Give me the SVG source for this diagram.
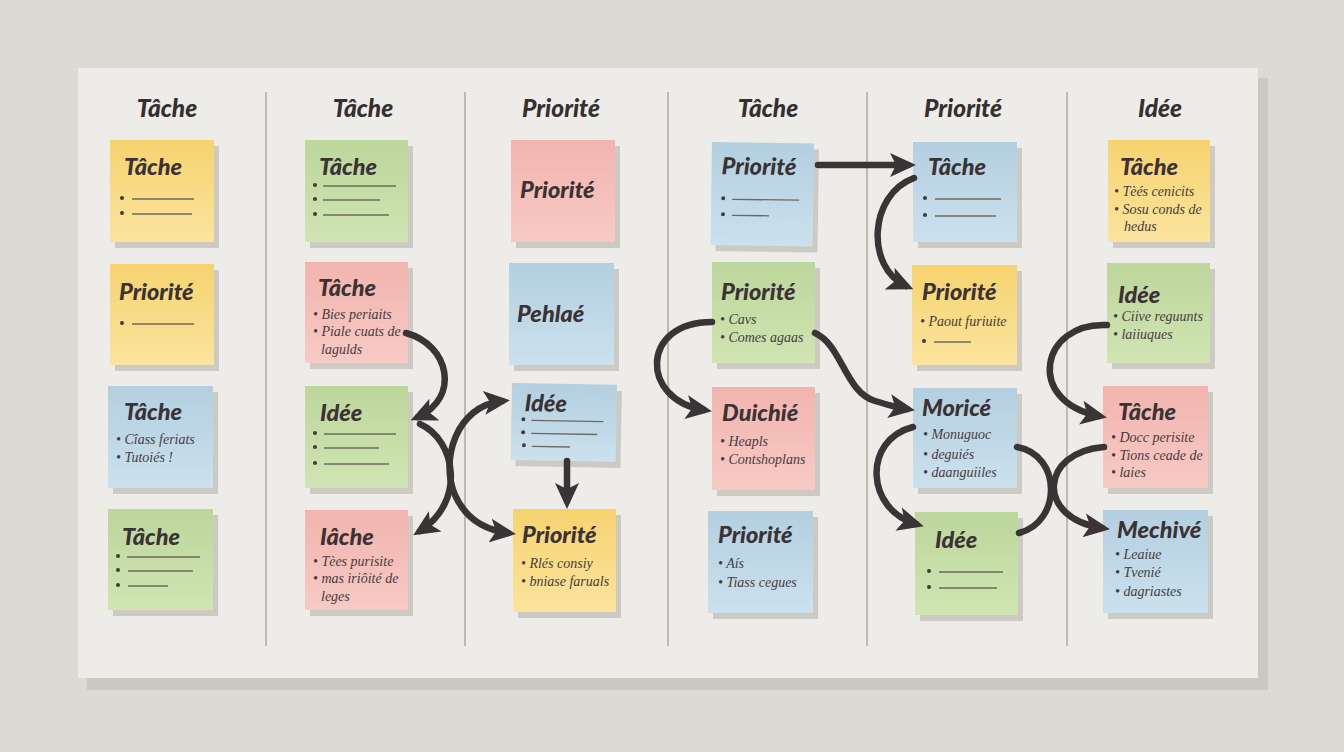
<svg xmlns="http://www.w3.org/2000/svg" width="1344" height="752" viewBox="0 0 1344 752">
<defs>
<linearGradient id="gy" x1="0" y1="0" x2="0" y2="1"><stop offset="0" stop-color="#f6d36f"/><stop offset="1" stop-color="#fbe49f"/></linearGradient>
<linearGradient id="gp" x1="0" y1="0" x2="0" y2="1"><stop offset="0" stop-color="#f2b4ae"/><stop offset="1" stop-color="#f7cac5"/></linearGradient>
<linearGradient id="gb" x1="0" y1="0" x2="0" y2="1"><stop offset="0" stop-color="#b3cfe0"/><stop offset="1" stop-color="#cbe1ed"/></linearGradient>
<linearGradient id="gg" x1="0" y1="0" x2="0" y2="1"><stop offset="0" stop-color="#bdd69b"/><stop offset="1" stop-color="#d0e5b3"/></linearGradient>
<marker id="ah" markerUnits="userSpaceOnUse" markerWidth="26" markerHeight="26" viewBox="0 0 26 26" refX="18" refY="13" orient="auto-start-reverse"><path d="M0 1 L26 13 L0 25 L6 13 Z" fill="#3a3436"/></marker>
</defs>
<style>
.h{font-family:Lato,"DejaVu Sans",sans-serif;font-weight:900;font-style:italic;font-size:24.5px;fill:#35302f;text-anchor:middle}
.t{font-family:Lato,"DejaVu Sans",sans-serif;font-weight:900;font-style:italic;font-size:23.5px;fill:#3a3234}
.b{font-family:"Liberation Serif","DejaVu Serif",serif;font-style:italic;font-size:14px;fill:#463c3e}
.sh{fill:#cdcac4}
.y{fill:url(#gy)}.p{fill:url(#gp)}.bl{fill:url(#gb)}.g{fill:url(#gg)}
.ln{stroke:#6c695f;stroke-width:1.3}
.dot{fill:#3f3a3a}
.dv{stroke:#bdbab4;stroke-width:2}
.c{fill:none;stroke:#3a3436;stroke-width:6.5;stroke-linecap:round}
</style>
<rect width="1344" height="752" fill="#dcdad5"/>
<rect x="87" y="78" width="1181" height="612" fill="#cbc8c2"/>
<rect x="78" y="68" width="1180" height="610" fill="#edece9"/>
<g id="dividers">
<line class="dv" x1="266" y1="92" x2="266" y2="646"/>
<line class="dv" x1="465" y1="92" x2="465" y2="646"/>
<line class="dv" x1="668" y1="92" x2="668" y2="646"/>
<line class="dv" x1="867" y1="92" x2="867" y2="646"/>
<line class="dv" x1="1067" y1="92" x2="1067" y2="646"/>
</g>
<g id="headers">
<text class="h" x="167" y="117">Tâche</text>
<text class="h" x="363" y="117">Tâche</text>
<text class="h" x="561" y="117">Priorité</text>
<text class="h" x="768" y="117">Tâche</text>
<text class="h" x="963" y="117">Priorité</text>
<text class="h" x="1160" y="117">Idée</text>
</g>

<g id="n1" transform="translate(110,140)">
<rect class="sh" x="5" y="6" width="104" height="102"/><rect class="y" width="104" height="102"/>
<text class="t" x="14" y="35">Tâche</text>
<circle class="dot" cx="12" cy="58" r="2"/><line class="ln" x1="22" y1="59" x2="84" y2="59"/>
<circle class="dot" cx="12" cy="73" r="2"/><line class="ln" x1="22" y1="74" x2="82" y2="74"/>
</g>
<g id="n2" transform="translate(110,264)">
<rect class="sh" x="5" y="6" width="104" height="101"/><rect class="y" width="104" height="101"/>
<text class="t" x="9" y="36">Priorité</text>
<circle class="dot" cx="12" cy="59" r="2"/><line class="ln" x1="22" y1="60" x2="84" y2="60"/>
</g>
<g id="n3" transform="translate(108,386)">
<rect class="sh" x="5" y="6" width="105" height="102"/><rect class="bl" width="105" height="102"/>
<text class="t" x="16" y="34">Tâche</text>
<text class="b" x="8" y="58">• Cîass feriats</text>
<text class="b" x="8" y="76">• Tutoiés !</text>
</g>
<g id="n4" transform="translate(108,509)">
<rect class="sh" x="5" y="6" width="105" height="101"/><rect class="g" width="105" height="101"/>
<text class="t" x="14" y="36">Tâche</text>
<circle class="dot" cx="10" cy="47" r="2"/><line class="ln" x1="19" y1="48" x2="92" y2="48"/>
<circle class="dot" cx="10" cy="61" r="2"/><line class="ln" x1="20" y1="62" x2="85" y2="62"/>
<circle class="dot" cx="10" cy="76" r="2"/><line class="ln" x1="20" y1="77" x2="60" y2="77"/>
</g>

<g id="n5" transform="translate(305,140)">
<rect class="sh" x="5" y="6" width="103" height="102"/><rect class="g" width="103" height="102"/>
<text class="t" x="14" y="35">Tâche</text>
<circle class="dot" cx="10" cy="45" r="2"/><line class="ln" x1="18" y1="46" x2="91" y2="46"/>
<circle class="dot" cx="10" cy="59" r="2"/><line class="ln" x1="18" y1="60" x2="75" y2="60"/>
<circle class="dot" cx="10" cy="74" r="2"/><line class="ln" x1="18" y1="75" x2="84" y2="75"/>
</g>
<g id="n6" transform="translate(305,262)">
<rect class="sh" x="5" y="6" width="103" height="101"/><rect class="p" width="103" height="101"/>
<text class="t" x="13" y="34">Tâche</text>
<text class="b" x="8" y="57">• Bies periaits</text>
<text class="b" x="8" y="74">• Piale cuats de</text>
<text class="b" x="16" y="92">lagulds</text>
</g>
<g id="n7" transform="translate(305,386)">
<rect class="sh" x="5" y="6" width="103" height="102"/><rect class="g" width="103" height="102"/>
<text class="t" x="15" y="35">Idée</text>
<circle class="dot" cx="10" cy="47" r="2"/><line class="ln" x1="19" y1="48" x2="91" y2="48"/>
<circle class="dot" cx="10" cy="61" r="2"/><line class="ln" x1="19" y1="62" x2="74" y2="62"/>
<circle class="dot" cx="10" cy="77" r="2"/><line class="ln" x1="19" y1="78" x2="84" y2="78"/>
</g>
<g id="n8" transform="translate(305,510)">
<rect class="sh" x="5" y="6" width="103" height="100"/><rect class="p" width="103" height="100"/>
<text class="t" x="15" y="35">Iâche</text>
<text class="b" x="8" y="56">• Tèes purisite</text>
<text class="b" x="8" y="73">• mas iriôité de</text>
<text class="b" x="16" y="91">leges</text>
</g>

<g id="n9" transform="translate(511,140)">
<rect class="sh" x="5" y="6" width="104" height="102"/><rect class="p" width="104" height="102"/>
<text class="t" x="9" y="58">Priorité</text>
</g>
<g id="n10" transform="translate(509,263)">
<rect class="sh" x="5" y="6" width="105" height="102"/><rect class="bl" width="105" height="102"/>
<text class="t" x="8" y="59">Pehlaé</text>
</g>
<g id="n11" transform="translate(512,383) rotate(1)">
<rect class="sh" x="5" y="6" width="105" height="77"/><rect class="bl" width="105" height="77"/>
<text class="t" x="13" y="28">Idée</text>
<circle class="dot" cx="12" cy="36" r="2"/><line class="ln" x1="20" y1="37" x2="92" y2="37"/>
<circle class="dot" cx="12" cy="49" r="2"/><line class="ln" x1="20" y1="50" x2="86" y2="50"/>
<circle class="dot" cx="13" cy="62" r="2"/><line class="ln" x1="21" y1="63" x2="59" y2="63"/>
</g>
<g id="n12" transform="translate(513,509)">
<rect class="sh" x="5" y="6" width="103" height="103"/><rect class="y" width="103" height="103"/>
<text class="t" x="9" y="34">Priorité</text>
<text class="b" x="8" y="59">• Rlés consiy</text>
<text class="b" x="8" y="77">• bniase faruals</text>
</g>

<g id="n13" transform="translate(712,142) rotate(0.8)">
<rect class="sh" x="5" y="6" width="102" height="103"/><rect class="bl" width="102" height="103"/>
<text class="t" x="10" y="32">Priorité</text>
<circle class="dot" cx="12" cy="56" r="2"/><line class="ln" x1="21" y1="57" x2="88" y2="57"/>
<circle class="dot" cx="12" cy="72" r="2"/><line class="ln" x1="21" y1="73" x2="58" y2="73"/>
</g>
<g id="n15" transform="translate(712,262)">
<rect class="sh" x="5" y="6" width="103" height="101"/><rect class="g" width="103" height="101"/>
<text class="t" x="9" y="38">Priorité</text>
<text class="b" x="8" y="62">• Cavs</text>
<text class="b" x="8" y="80">• Comes agaas</text>
</g>
<g id="n16" transform="translate(712,387)">
<rect class="sh" x="5" y="6" width="103" height="103"/><rect class="p" width="103" height="103"/>
<text class="t" x="10" y="34">Duichié</text>
<text class="b" x="8" y="59">• Heapls</text>
<text class="b" x="8" y="77">• Contshoplans</text>
</g>
<g id="n17" transform="translate(708,511)">
<rect class="sh" x="5" y="6" width="105" height="102"/><rect class="bl" width="105" height="102"/>
<text class="t" x="10" y="32">Priorité</text>
<text class="b" x="10" y="57">• Aís</text>
<text class="b" x="10" y="76">• Tiass cegues</text>
</g>

<g id="n14" transform="translate(913,142)">
<rect class="sh" x="5" y="6" width="104" height="100"/><rect class="bl" width="104" height="100"/>
<text class="t" x="15" y="33">Tâche</text>
<circle class="dot" cx="12" cy="56" r="2"/><line class="ln" x1="22" y1="57" x2="88" y2="57"/>
<circle class="dot" cx="12" cy="73" r="2"/><line class="ln" x1="22" y1="74" x2="83" y2="74"/>
</g>
<g id="n18" transform="translate(912,265)">
<rect class="sh" x="5" y="6" width="105" height="100"/><rect class="y" width="105" height="100"/>
<text class="t" x="10" y="35">Priorité</text>
<text class="b" x="8" y="61">• Paout furiuite</text>
<circle class="dot" cx="12" cy="76" r="2"/><line class="ln" x1="22" y1="77" x2="59" y2="77"/>
</g>
<g id="n19" transform="translate(913,388)">
<rect class="sh" x="5" y="6" width="104" height="100"/><rect class="bl" width="104" height="100"/>
<text class="t" x="9" y="28">Moricé</text>
<text class="b" x="10" y="51">• Monuguoc</text>
<text class="b" x="10" y="71">• deguiés</text>
<text class="b" x="10" y="89">• daanguiiles</text>
</g>
<g id="n20" transform="translate(915,512)">
<rect class="sh" x="5" y="6" width="103" height="103"/><rect class="g" width="103" height="103"/>
<text class="t" x="20" y="36">Idée</text>
<circle class="dot" cx="14" cy="59" r="2"/><line class="ln" x1="24" y1="60" x2="88" y2="60"/>
<circle class="dot" cx="14" cy="75" r="2"/><line class="ln" x1="24" y1="76" x2="82" y2="76"/>
</g>

<g id="n21" transform="translate(1108,140)">
<rect class="sh" x="5" y="6" width="102" height="102"/><rect class="y" width="102" height="102"/>
<text class="t" x="12" y="35">Tâche</text>
<text class="b" x="6" y="56">• Tèés cenicits</text>
<text class="b" x="6" y="74">• Sosu conds de</text>
<text class="b" x="16" y="91">hedus</text>
</g>
<g id="n22" transform="translate(1107,263)">
<rect class="sh" x="5" y="6" width="103" height="100"/><rect class="g" width="103" height="100"/>
<text class="t" x="11" y="40">Idée</text>
<text class="b" x="6" y="58">• Ciive reguunts</text>
<text class="b" x="6" y="76">• laiiuques</text>
</g>
<g id="n23" transform="translate(1103,386)">
<rect class="sh" x="5" y="6" width="105" height="102"/><rect class="p" width="105" height="102"/>
<text class="t" x="15" y="34">Tâche</text>
<text class="b" x="8" y="56">• Docc perisite</text>
<text class="b" x="8" y="74">• Tions ceade de</text>
<text class="b" x="8" y="91">• laies</text>
</g>
<g id="n24" transform="translate(1103,510)">
<rect class="sh" x="5" y="6" width="105" height="103"/><rect class="bl" width="105" height="103"/>
<text class="t" x="14" y="28">Mechivé</text>
<text class="b" x="12" y="49">• Leaiue</text>
<text class="b" x="12" y="67">• Tvenié</text>
<text class="b" x="12" y="86">• dagriastes</text>
</g>

<g id="connectors">
<path class="c" d="M406 333 C450 345 460 398 418 417" marker-end="url(#ah)"/>
<path class="c" d="M420 424 C456 440 466 502 420 531" marker-end="url(#ah)"/>
<path class="c" d="M502 401 C456 406 440 460 455 495 C466 520 486 530 508 533" marker-start="url(#ah)" marker-end="url(#ah)"/>
<path class="c" d="M567 461 L567 501" marker-end="url(#ah)"/>
<path class="c" d="M818 165 L908 165" marker-end="url(#ah)"/>
<path class="c" d="M914 178 C868 195 866 268 906 286" marker-end="url(#ah)"/>
<path class="c" d="M712 322 C640 322 640 400 704 410" marker-end="url(#ah)"/>
<path class="c" d="M815 333 C842 345 845 392 875 401 S895 407 907 409" marker-end="url(#ah)"/>
<path class="c" d="M913 427 C862 440 866 510 916 524" marker-end="url(#ah)"/>
<path class="c" d="M1017 447 C1062 455 1062 522 1019 533"/>
<path class="c" d="M1104 447 C1040 452 1035 518 1102 528" marker-end="url(#ah)"/>
<path class="c" d="M1107 325 C1040 322 1025 402 1099 416" marker-end="url(#ah)"/>
</g>
</svg>
